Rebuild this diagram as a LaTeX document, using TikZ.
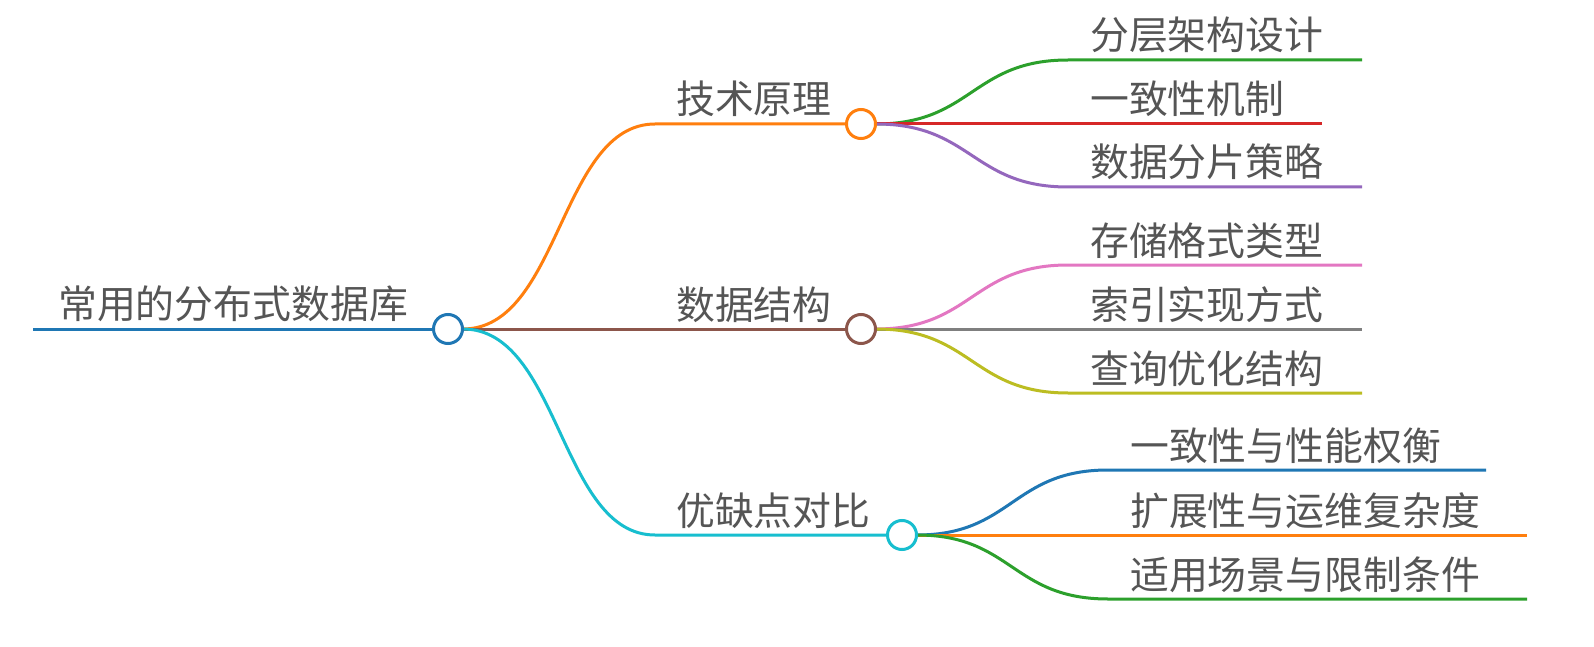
\documentclass[tikz,border=0pt]{standalone}
\usepackage{fontspec}
\newfontfamily\cjk{Noto Sans CJK SC}
\definecolor{cb}{HTML}{1F77B4}\definecolor{co}{HTML}{FF7F0E}\definecolor{cg}{HTML}{2CA02C}
\definecolor{cr}{HTML}{D62728}\definecolor{cp}{HTML}{9467BD}\definecolor{cbr}{HTML}{8C564B}
\definecolor{cpk}{HTML}{E377C2}\definecolor{cgr}{HTML}{7F7F7F}\definecolor{col}{HTML}{BCBD22}
\definecolor{cc}{HTML}{17BECF}\definecolor{tx}{HTML}{555555}
\begin{document}
\begin{tikzpicture}[x=1bp,y=-1bp,
 lbl/.style={anchor=base west,inner sep=0pt,text=tx,font=\cjk\fontsize{39}{41}\selectfont},
 hub/.style={circle,draw=#1,line width=3bp,fill=white,minimum size=29bp,inner sep=0pt},
 ln/.style={line width=3bp}]
\fill[white] (0,0) rectangle (1594,647);
\useasboundingbox (0,0) rectangle (1594,647);
\coordinate (r0) at (33,329);
\draw[ln,cb] (r0) -- (448,329);
\node[lbl] (rt) at (58,318) {常用的分布式数据库};
\foreach \c/\y/\ex in {co/124/861, cbr/329/861, cc/535/902}{
 \draw[ln,\c] (463,329) .. controls (560,329) and (560,\y) .. (655,\y) -- (\ex,\y);
}
\node[hub=cb] (root) at (448,329) {};
\node[lbl] (t1) at (676,114) {技术原理};
\node[lbl] (t2) at (676,319) {数据结构};
\node[lbl] (t3) at (676,525) {优缺点对比};
\foreach \c/\y/\ex/\t in {cg/60/1362/分层架构设计, cr/124/1322/一致性机制, cp/187/1362/数据分片策略}{
 \draw[ln,\c] (876,124) .. controls (972,124) and (972,\y) .. (1068,\y) -- (\ex,\y);
 \node[lbl] at (1090,\y-10) {\t};
}
\foreach \c/\y/\ex/\t in {cpk/265/1362/存储格式类型, cgr/329/1362/索引实现方式, col/393/1362/查询优化结构}{
 \draw[ln,\c] (876,329) .. controls (972,329) and (972,\y) .. (1068,\y) -- (\ex,\y);
 \node[lbl] at (1090,\y-10) {\t};
}
\foreach \c/\y/\ex/\t in {cb/470/1486/一致性与性能权衡, co/535/1527/扩展性与运维复杂度, cg/599/1527/适用场景与限制条件}{
 \draw[ln,\c] (917,535) .. controls (1012,535) and (1012,\y) .. (1108,\y) -- (\ex,\y);
 \node[lbl] at (1130,\y-10) {\t};
}
\node[hub=co] (b1) at (861,124) {};
\node[hub=cbr] (b2) at (861,329) {};
\node[hub=cc] (b3) at (902,535) {};
\end{tikzpicture}
\end{document}
